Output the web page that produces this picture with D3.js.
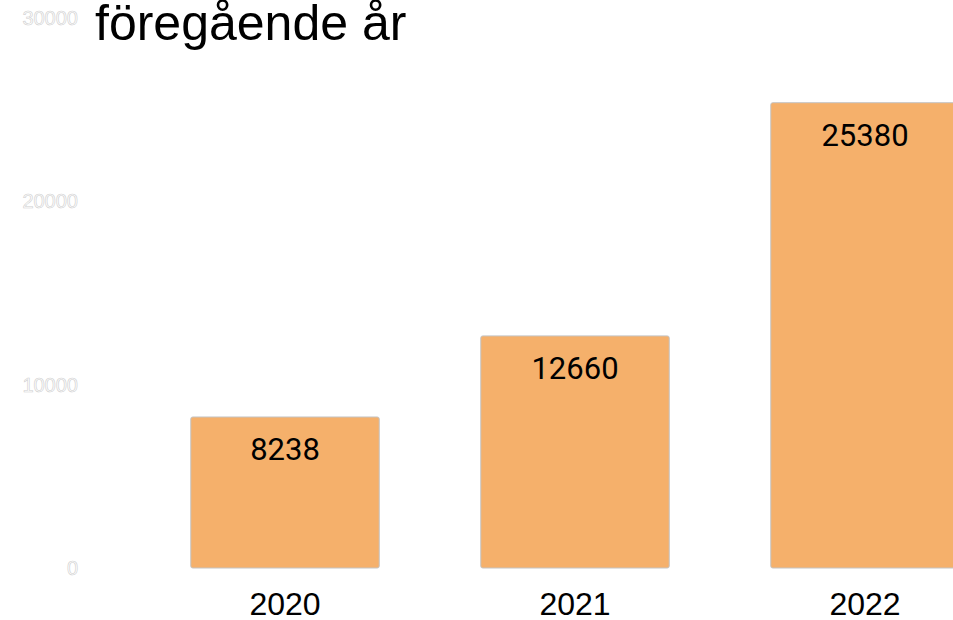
<!DOCTYPE html>
<html>
<head>
<meta charset="utf-8">
<script src="https://cdn.jsdelivr.net/npm/d3@7"></script>
<style>
  html, body { margin: 0; padding: 0; background: #fff; overflow: hidden; }
  .ytick text { fill: #fff; stroke: #cfcfcf; stroke-width: 0.6px; font-family: "Liberation Sans", Arial, sans-serif; font-size: 20px; }
  .xtick text { fill: #000; font-family: "Liberation Sans", Arial, sans-serif; font-size: 32px; }
  .val { font-family: Roboto, sans-serif; font-size: 31px; fill: #000; text-anchor: middle; }
</style>
</head>
<body>
<div id="chart"></div>
<script>
// data
var years = ["2020", "2021", "2022"];
var counts = [8238, 12660, 25380];
var yTicks = [0, 10000, 20000, 30000];
var titleText = "föregående år";

var w = 953, h = 620;

var svg = d3.select("#chart").append("svg")
  .attr("width", w)
  .attr("height", h);

var xScale = d3.scaleBand()
  .domain(years)
  .range([140, 1010])
  .paddingInner(0.35)
  .paddingOuter(0.175);

var yScale = d3.scaleLinear()
  .domain([0, 30000])
  .range([568, 18]);

// y axis, outlined labels only
svg.append("g")
  .attr("class", "ytick")
  .attr("transform", "translate(78,0)")
  .call(d3.axisLeft(yScale).tickValues(yTicks).tickSize(0).tickPadding(0).tickFormat(d3.format("d")))
  .call(function(g){ g.select(".domain").remove(); });

// bars
var rows = years.map(function(y, i){ return {year: y, n: counts[i]}; });

svg.selectAll("rect.bar")
  .data(rows)
  .enter().append("rect")
  .attr("class", "bar")
  .attr("x", function(d){ return xScale(d.year); })
  .attr("y", function(d){ return yScale(d.n); })
  .attr("width", xScale.bandwidth())
  .attr("height", function(d){ return yScale(0) - yScale(d.n); })
  .attr("rx", 2)
  .attr("fill", "#f5b06b")
  .attr("stroke", "#c4c4c4")
  .attr("stroke-width", 1);

// value labels
svg.selectAll("text.val")
  .data(rows)
  .enter().append("text")
  .attr("class", "val")
  .attr("x", function(d){ return xScale(d.year) + xScale.bandwidth()/2; })
  .attr("y", function(d){ return yScale(d.n) + 43; })
  .text(function(d){ return d.n; });

// x axis
svg.append("g")
  .attr("class", "xtick")
  .attr("transform", "translate(0,568)")
  .call(d3.axisBottom(xScale).tickSize(0).tickPadding(24))
  .call(function(g){ g.select(".domain").remove(); });

// title (first line sits above the visible area)
svg.append("text")
  .attr("x", 95)
  .attr("y", 40)
  .style("font-family", "'Liberation Sans', Arial, sans-serif")
  .style("font-size", "50px")
  .attr("fill", "#000")
  .text(titleText);
</script>
</body>
</html>
